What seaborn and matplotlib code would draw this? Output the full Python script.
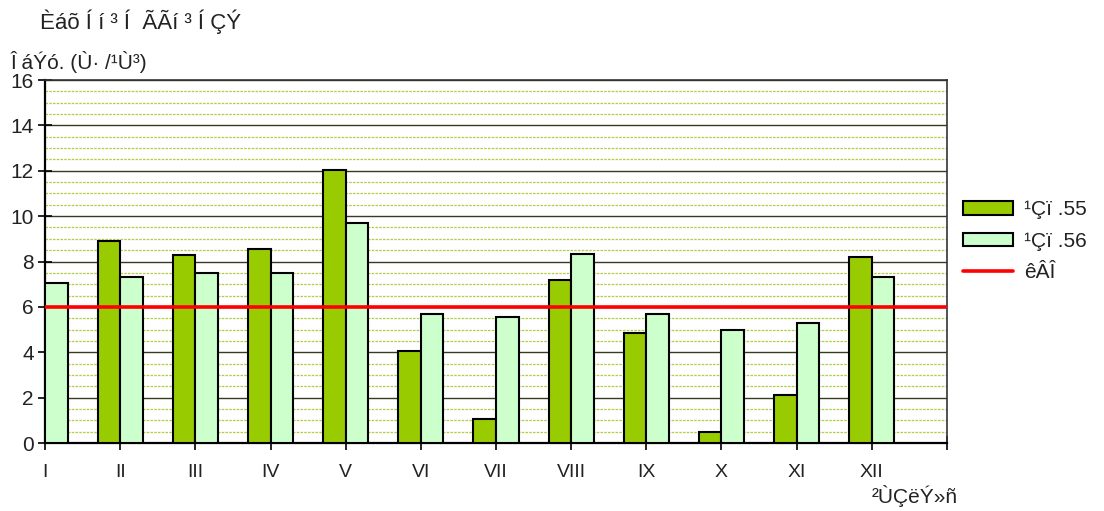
import numpy as np
import pandas as pd
import matplotlib
matplotlib.use("Agg")
import matplotlib.pyplot as plt
import seaborn as sns
from matplotlib.patches import Patch
from matplotlib.lines import Line2D

months = ["I", "II", "III", "IV", "V", "VI", "VII", "VIII", "IX", "X", "XI", "XII"]
series_names = ["¹Çï .55", "¹Çï .56"]
values_55 = [0.0, 8.9, 8.3, 8.55, 12.05, 4.05, 1.05, 7.2, 4.85, 0.5, 2.1, 8.2]
values_56 = [7.05, 7.3, 7.5, 7.5, 9.7, 5.7, 5.55, 8.35, 5.7, 5.0, 5.3, 7.3]
limit_value = 6.0
limit_name = "êÂÎ"
title_text = "Èáõ Í í ³ Í  ÃÃí ³ Í ÇÝ"
ylabel_text = "Î áÝó. (Ù· /¹Ù³)"
xlabel_text = "²ÙÇëÝ»ñ"
colors = ["#99CC00", "#CCFFCC"]

df = pd.DataFrame({
    "month": months * 2,
    "series": [series_names[0]] * 12 + [series_names[1]] * 12,
    "value": values_55 + values_56,
})

sns.set_theme(style="white")
plt.rcParams["font.family"] = ["Liberation Sans", "DejaVu Sans"]

fig = plt.figure(figsize=(11.04, 5.11), dpi=100)
ax = fig.add_axes([45 / 1104, 1 - 443 / 511, (947 - 45) / 1104, (443 - 80) / 511])

sns.barplot(data=df, x="month", y="value", hue="series", order=months,
            hue_order=series_names, palette=colors, saturation=1, width=0.6,
            edgecolor="black", linewidth=1.5, ax=ax, legend=False, zorder=3)

ax.set_ylim(0, 16)
ax.set_xlim(0, 12)
ax.set_yticks(np.arange(0, 17, 2))
ax.set_yticks(np.arange(0, 16.01, 0.5), minor=True)
ax.yaxis.grid(True, which="major", color="#3a3a20", linewidth=1.0, zorder=0)
ax.yaxis.grid(True, which="minor", color="#b0cc40", linewidth=0.9, linestyle=(0, (2, 1)), zorder=0)
ax.set_axisbelow(True)
ax.set_xticks(np.arange(0, 13))
ax.set_xticklabels(months + [""])
ax.tick_params(axis="x", which="major", direction="inout", length=10, width=1.2,
               color="black", labelsize=14, pad=10, bottom=True)
ax.tick_params(axis="y", which="major", direction="inout", length=10, width=1.2,
               color="black", labelsize=15, pad=3, left=True)
ax.tick_params(axis="y", which="minor", length=0)
for lbl in ax.get_xticklabels() + ax.get_yticklabels():
    lbl.set_color("#222222")

ax.axhline(limit_value, color="#ff0000", linewidth=2.6, zorder=4)

for side in ["left", "bottom"]:
    ax.spines[side].set_color("black")
    ax.spines[side].set_linewidth(1.6)
for side in ["top", "right"]:
    ax.spines[side].set_color("#333333")
    ax.spines[side].set_linewidth(1.2)

ax.set_xlabel("")
ax.set_ylabel("")

fig.text(40 / 1104, 1 - 22 / 511, title_text, fontsize=16, ha="left", va="center", color="#222222")
fig.text(10 / 1104, 1 - 62 / 511, ylabel_text, fontsize=15, ha="left", va="center", color="#222222")
fig.text(915 / 1104, 1 - 496 / 511, xlabel_text, fontsize=15, ha="center", va="center", color="#222222")

handles = [
    Patch(facecolor=colors[0], edgecolor="black", linewidth=1.5),
    Patch(facecolor=colors[1], edgecolor="black", linewidth=1.5),
    Line2D([0], [0], color="#ff0000", linewidth=2.6),
]
fig.legend(handles, series_names + [limit_name], loc="upper left",
           bbox_to_anchor=(955 / 1104, 1 - 192 / 511), frameon=False,
           fontsize=15, handlelength=2.4, handleheight=0.65, labelspacing=0.6,
           handletextpad=0.5, labelcolor="#222222", borderaxespad=0.0)

fig.savefig("out.png", dpi=100)
